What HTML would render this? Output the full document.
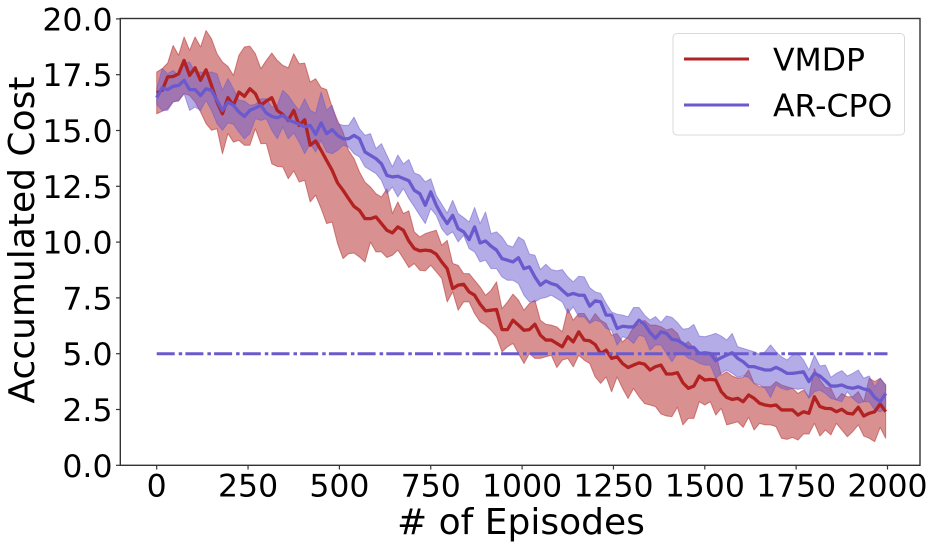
<!DOCTYPE html>
<html>
<head>
<meta charset="utf-8">
<title>Accumulated Cost vs Episodes</title>
<style>
html,body{margin:0;padding:0;background:#fff;}
svg{display:block;font-family:"DejaVu Sans","Liberation Sans",sans-serif;}
</style>
</head>
<body>
<svg id="chart" width="934" height="547" viewBox="0 0 934 547" xmlns="http://www.w3.org/2000/svg">
  <rect x="0" y="0" width="934" height="547" fill="#fff"/>
  <g id="bands"></g>
  <g id="lines"></g>
  <g id="axes"></g>
  <text x="521" y="534" font-size="36" text-anchor="middle" fill="#000"># of Episodes</text>
  <text transform="translate(34,240) rotate(-90)" font-size="36" text-anchor="middle" fill="#000">Accumulated Cost</text>
  <g>
    <rect x="673" y="33.5" width="231.5" height="101.5" rx="4" fill="#fff" fill-opacity="0.8" stroke="#d9d9d9" stroke-width="1"/>
    <line x1="684" y1="59" x2="749" y2="59" stroke="#b22222" stroke-width="3"/>
    <text x="773" y="70.5" font-size="31.5" fill="#000">VMDP</text>
    <line x1="684" y1="105" x2="749" y2="105" stroke="#6a5acd" stroke-width="3"/>
    <text x="773" y="116.5" font-size="31.5" fill="#000">AR-CPO</text>
  </g>
</svg>
<script>
const episodeStep = 15;
const xTickValues = [0, 250, 500, 750, 1000, 1250, 1500, 1750, 2000];
const yTickValues = [0, 2.5, 5, 7.5, 10, 12.5, 15, 17.5, 20];
const yTickLabels = ["0.0", "2.5", "5.0", "7.5", "10.0", "12.5", "15.0", "17.5", "20.0"];
const costLimit = [5, 5];
const costLimitEpisodes = [0, 2000];

const vmdpMean = [16.68,16.8,17.4,17.42,17.54,18.14,17.47,17.81,17.25,17.72,17.02,16.28,15.75,16.47,16.13,16.72,16.53,16.87,16.65,16.13,16.32,16.47,15.9,15.72,15.45,15.9,15.23,15.48,14.34,14.53,14.11,13.66,13.22,12.65,12.32,11.95,11.6,11.42,11.05,11.05,11.13,10.83,10.53,10.41,
10.68,10.53,10.05,9.71,9.61,9.64,9.61,9.46,9.11,8.81,7.92,8.07,8.11,7.77,7.62,7.22,6.92,6.95,6.98,6.08,6.08,6.5,6.28,6.05,6.08,6.32,5.83,5.61,5.61,5.46,5.31,5.76,5.53,5.98,5.61,5.58,5.41,5.01,5.16,4.79,4.86,4.56,4.38,4.49,4.59,4.53,4.27,
4.42,4.49,4.09,4.09,4.15,3.7,3.45,3.55,4.0,3.82,3.85,3.82,3.3,3.04,2.95,3.0,2.85,3.15,3.0,2.78,2.7,2.66,2.7,2.48,2.48,2.48,2.25,2.4,2.33,3.07,2.63,2.55,2.54,2.4,2.51,2.33,2.3,2.6,2.21,2.33,2.4,2.75,2.4];

const vmdpUpper = [17.62,17.77,18.02,18.81,18.37,19.19,18.59,19.19,18.74,19.48,19.11,18.44,18.07,17.87,17.47,18.37,18.74,18.78,18.44,17.77,18.14,18.47,18.14,17.92,17.81,18.44,17.99,18.02,17.17,17.32,16.92,16.83,16.05,15.45,14.93,14.11,13.74,13.14,12.69,12.47,12.17,12.02,12.39,11.28,
11.8,11.28,11.4,10.46,10.23,10.38,10.46,10.53,9.86,10.08,9.04,8.96,8.59,8.59,8.29,7.99,7.62,7.84,8.22,7.02,7.32,7.67,7.4,6.95,7.25,7.4,6.5,6.32,6.28,6.2,5.98,7.02,6.5,6.8,6.8,6.43,6.8,6.5,6.35,5.83,5.9,5.53,5.76,6.2,6.32,6.5,6.28,
6.28,6.21,6.06,6.13,5.91,5.39,5.54,5.24,5.09,4.94,5.01,5.01,4.04,4.19,4.0,3.9,3.94,4.27,3.67,3.52,3.52,3.52,3.75,3.6,3.52,3.45,3.22,3.37,3.07,4.34,3.82,3.49,3.45,2.93,3.22,3.07,3.07,3.3,2.85,3.9,3.75,3.9,3.6];

const vmdpLower = [15.75,15.86,15.98,16.28,16.32,16.65,16.57,16.28,15.83,15.31,15.01,15.08,13.96,14.86,14.48,14.56,14.34,14.34,15.08,14.41,14.41,13.51,13.39,13.37,12.84,13.19,12.69,12.77,11.8,12.1,11.5,10.83,10.9,9.93,9.26,9.48,9.51,9.33,9.11,10.0,9.56,9.56,9.31,9.41,
9.64,9.26,8.86,9.04,8.74,8.71,8.96,8.67,8.37,7.32,7.77,6.95,7.32,7.32,6.8,6.43,6.28,6.05,5.76,5.08,5.31,5.46,5.01,4.56,5.01,4.79,4.79,4.86,4.93,4.38,4.71,4.79,4.41,4.93,4.71,4.56,3.96,3.67,3.96,3.29,3.96,3.44,2.99,3.44,3.07,2.77,2.7,
2.63,2.3,2.21,2.18,2.6,1.81,2.1,2.1,2.85,2.7,2.85,2.25,2.55,1.81,1.88,1.95,1.7,2.15,1.58,1.88,1.81,1.81,1.73,1.21,1.16,1.25,1.13,1.4,1.4,1.88,1.31,1.58,1.36,1.88,1.58,1.28,1.51,1.81,1.31,1.21,1.06,1.7,1.21];

const arCpoMean = [16.47,16.92,16.83,16.98,17.02,17.25,16.83,16.83,16.57,16.87,16.8,16.35,15.9,16.28,16.13,15.83,15.63,15.9,16.01,16.13,15.78,15.63,15.57,15.68,15.48,15.38,15.28,15.16,15.23,14.83,15.34,14.86,15.04,14.78,14.63,14.63,14.78,14.63,14.04,13.89,13.74,13.51,12.99,12.92,
12.95,12.85,12.75,12.32,12.17,11.65,12.25,11.65,11.2,10.83,11.2,10.6,10.46,10.11,10.68,9.96,10.05,9.82,9.64,9.26,9.19,9.11,9.3,8.81,8.89,8.44,8.07,8.26,8.14,8.07,7.84,7.62,7.7,7.62,7.62,7.13,7.37,7.32,6.73,6.73,6.13,6.23,6.2,6.2,6.5,6.32,5.95,
5.69,5.98,5.91,5.64,5.61,5.46,5.28,5.28,5.01,5.04,5.01,4.69,4.82,4.94,5.04,4.79,4.64,4.42,4.42,4.34,4.27,4.27,4.39,4.27,4.12,4.12,4.15,4.19,3.75,4.12,4.0,3.79,3.55,3.55,3.6,3.49,3.45,3.52,3.42,3.37,3.04,2.85,3.22];

const arCpoUpper = [16.87,17.77,17.54,17.69,17.47,17.99,18.07,17.62,17.62,17.59,17.62,17.54,16.8,17.32,16.87,16.35,16.32,16.13,16.17,16.42,16.42,16.05,16.13,16.8,16.57,16.2,15.9,16.42,15.9,15.78,16.72,15.9,16.13,15.31,15.23,15.23,15.6,15.08,14.78,14.86,14.19,14.41,13.89,13.37,
13.9,13.5,13.7,13.1,13.0,12.7,12.84,12.1,11.7,11.3,11.87,11.28,11.1,10.9,11.55,10.83,11.35,10.38,10.46,10.23,9.86,9.78,10.23,10.08,9.46,9.41,8.77,9.01,8.77,8.71,8.77,8.44,8.22,8.47,8.44,7.96,7.77,7.7,7.25,6.87,6.77,6.73,6.65,7.07,7.07,6.73,6.51,
6.66,6.4,6.69,6.63,6.4,6.1,6.13,6.31,5.79,5.76,5.83,5.91,5.79,5.61,5.91,5.31,5.24,5.16,5.09,4.97,5.09,5.39,5.09,4.86,4.72,4.94,5.01,4.72,4.27,4.94,4.45,4.49,3.94,4.12,4.24,4.0,4.12,4.27,3.9,4.0,3.52,3.9,3.6];

const arCpoLower = [16.17,15.9,15.9,16.28,16.35,16.65,15.9,16.05,15.9,16.35,15.9,15.31,15.01,15.34,15.28,14.93,14.63,14.86,15.53,15.45,15.53,15.01,14.63,15.16,14.63,14.89,14.48,13.96,14.41,14.04,14.56,14.04,13.96,14.11,14.34,14.26,13.96,13.81,13.37,13.22,13.07,12.77,12.17,12.47,
12.02,12.4,11.95,11.58,11.2,10.83,11.5,11.2,10.6,10.3,10.46,10.01,10.3,9.71,9.56,9.11,9.19,8.81,8.81,8.44,8.29,8.29,8.14,7.62,7.32,7.32,7.47,7.52,7.62,7.47,7.32,6.8,7.1,6.65,6.65,6.35,6.5,6.43,6.13,6.05,5.38,5.76,5.68,5.46,5.83,5.76,5.16,
5.39,5.39,5.01,4.64,5.01,5.01,4.79,4.72,4.57,4.49,4.49,3.9,4.12,4.27,4.12,3.94,4.0,3.94,3.67,3.6,3.45,3.04,3.6,3.45,3.37,3.45,3.4,3.45,3.0,3.3,3.37,3.22,3.0,2.93,2.85,3.3,3.0,2.78,2.85,2.85,2.48,2.4,2.55];

function xScale(ep) { return 156.7 + ep * 0.3654; }
function yScale(v) { return 465.3 - v * 22.32; }

const SVG_NS = "http://www.w3.org/2000/svg";

function seriesPoints(values) {
  return values.map(function (v, i) {
    return xScale(i * episodeStep).toFixed(2) + "," + yScale(v).toFixed(2);
  });
}

const bandsLayer = document.getElementById("bands");
const linesLayer = document.getElementById("lines");
const axesLayer = document.getElementById("axes");

function addBand(upper, lower, color) {
  const el = document.createElementNS(SVG_NS, "polygon");
  const pts = seriesPoints(upper).concat(seriesPoints(lower).reverse());
  el.setAttribute("points", pts.join(" "));
  el.setAttribute("fill", color);
  el.setAttribute("fill-opacity", "0.5");
  el.setAttribute("stroke", color);
  el.setAttribute("stroke-opacity", "0.5");
  el.setAttribute("stroke-width", "1");
  el.setAttribute("stroke-linejoin", "round");
  bandsLayer.appendChild(el);
  return el;
}

const vmdpBand = addBand(vmdpUpper, vmdpLower, "#b22222");


const arCpoBand = addBand(arCpoUpper, arCpoLower, "#6a5acd");



function addLine(values, color) {
  const el = document.createElementNS(SVG_NS, "polyline");
  el.setAttribute("points", seriesPoints(values).join(" "));
  el.setAttribute("fill", "none");
  el.setAttribute("stroke", color);
  el.setAttribute("stroke-width", "3.3");
  el.setAttribute("stroke-linejoin", "round");
  linesLayer.appendChild(el);
  return el;
}

const vmdpLine = addLine(vmdpMean, "#b22222");


const arCpoLine = addLine(arCpoMean, "#6a5acd");



const limitLine = document.createElementNS(SVG_NS, "line");


limitLine.setAttribute("x1", xScale(costLimitEpisodes[0]));
limitLine.setAttribute("x2", xScale(costLimitEpisodes[1]));
limitLine.setAttribute("y1", yScale(costLimit[0]));
limitLine.setAttribute("y2", yScale(costLimit[1]));
limitLine.setAttribute("stroke", "#6a5acd");
limitLine.setAttribute("stroke-width", "3");
limitLine.setAttribute("stroke-dasharray", "18 4 3.5 3.2");
linesLayer.appendChild(limitLine);

const spines = document.createElementNS(SVG_NS, "rect");


spines.setAttribute("x", "120.3");
spines.setAttribute("y", "18.5");
spines.setAttribute("width", "799.7");
spines.setAttribute("height", "446.8");
spines.setAttribute("fill", "none");
spines.setAttribute("stroke", "#333");
spines.setAttribute("stroke-width", "1.4");
axesLayer.appendChild(spines);

xTickValues.forEach(function (t) {
  const tick = document.createElementNS(SVG_NS, "line");
  
  
  tick.setAttribute("x1", xScale(t));
  tick.setAttribute("x2", xScale(t));
  tick.setAttribute("y1", "465.3");
  tick.setAttribute("y2", "469.5");
  tick.setAttribute("stroke", "#333");
  tick.setAttribute("stroke-width", "1.2");
  axesLayer.appendChild(tick);
  const label = document.createElementNS(SVG_NS, "text");
  
  
  label.setAttribute("x", xScale(t));
  label.setAttribute("y", "496.5");
  label.setAttribute("font-size", "31.5");
  label.setAttribute("text-anchor", "middle");
  label.setAttribute("fill", "#000");
  label.textContent = String(t);
  axesLayer.appendChild(label);
});

yTickValues.forEach(function (t, i) {
  const tick = document.createElementNS(SVG_NS, "line");
  
  
  tick.setAttribute("x1", "116");
  tick.setAttribute("x2", "120.3");
  tick.setAttribute("y1", yScale(t));
  tick.setAttribute("y2", yScale(t));
  tick.setAttribute("stroke", "#333");
  tick.setAttribute("stroke-width", "1.2");
  axesLayer.appendChild(tick);
  const label = document.createElementNS(SVG_NS, "text");
  
  
  label.setAttribute("x", "112.5");
  label.setAttribute("y", yScale(t) + 11.5);
  label.setAttribute("font-size", "31.5");
  label.setAttribute("text-anchor", "end");
  label.setAttribute("fill", "#000");
  label.textContent = yTickLabels[i];
  axesLayer.appendChild(label);
});
</script>
</body>
</html>
